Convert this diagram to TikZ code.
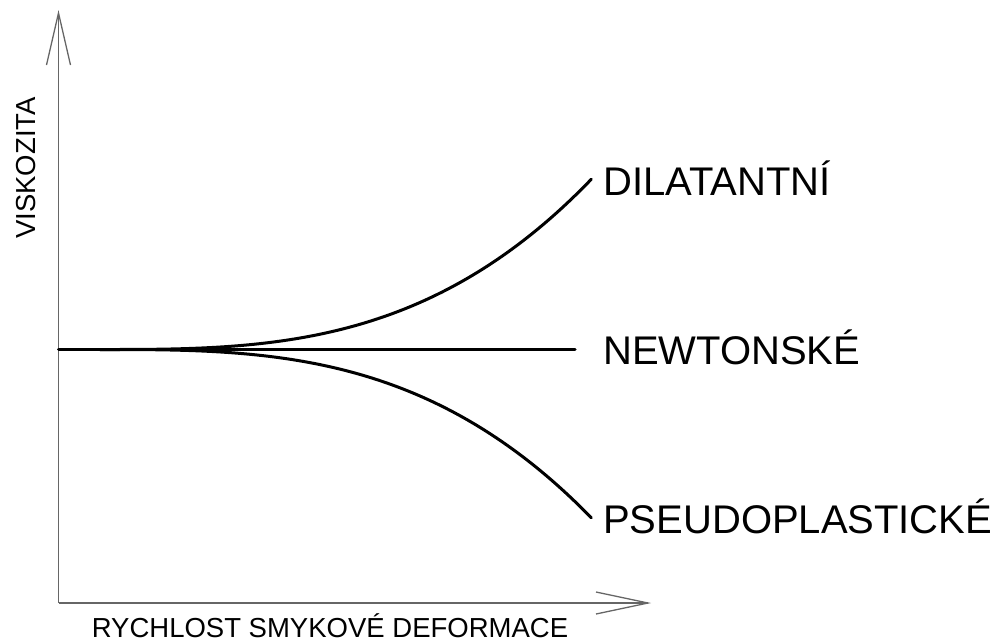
\documentclass[tikz,border=0pt]{standalone}
\usepackage{fontspec}
\setmainfont{Liberation Sans}
\begin{document}
\begin{tikzpicture}[x=1pt,y=-1pt,
  axis/.style={draw=black!60, line width=1.3pt},
  curve/.style={line width=3pt, line cap=round},
  lab/.style={anchor=base west, font=\fontsize{40}{40}\selectfont, inner sep=0pt},
  axlab/.style={font=\fontsize{27.5}{28}\selectfont, inner sep=0pt}]
\useasboundingbox (0,0) rectangle (1003,641);
\coordinate (O) at (58.5,603);
\coordinate (Ytip) at (58.5,13);
\coordinate (Yl) at (46.5,65);
\coordinate (Yr) at (70.5,65);
\coordinate (Xtip) at (648,603);
\coordinate (Xu) at (596,592);
\coordinate (Xd) at (596,614);
\draw[axis] (O) -- (Ytip);
\draw[axis] (O) -- (Xtip);
\draw[axis] (Yl) -- (Ytip) -- (Yr);
\draw[axis] (Xu) -- (Xtip) -- (Xd);
\coordinate (N0) at (58.5,349.5);
\coordinate (N1) at (575,349.5);
\draw[curve] (N0) -- (N1);
\draw[curve] plot[domain=0:1,samples=100] ({100+492*\x},{349.5-171*pow(\x,3)});
\draw[curve] plot[domain=0:1,samples=100] ({100+492*\x},{349.5+169*pow(\x,3)});
\node[lab] (dil) at (603,195) {DILATANTNÍ};
\node[lab] (new) at (603,364) {NEWTONSKÉ};
\node[lab] (pse) at (603,533) {PSEUDOPLASTICKÉ};
\node[axlab, rotate=90, anchor=base] (vis) at (35,168) {VISKOZITA};
\node[axlab, anchor=base] (ryc) at (330,637) {RYCHLOST SMYKOVÉ DEFORMACE};
\end{tikzpicture}
\end{document}
